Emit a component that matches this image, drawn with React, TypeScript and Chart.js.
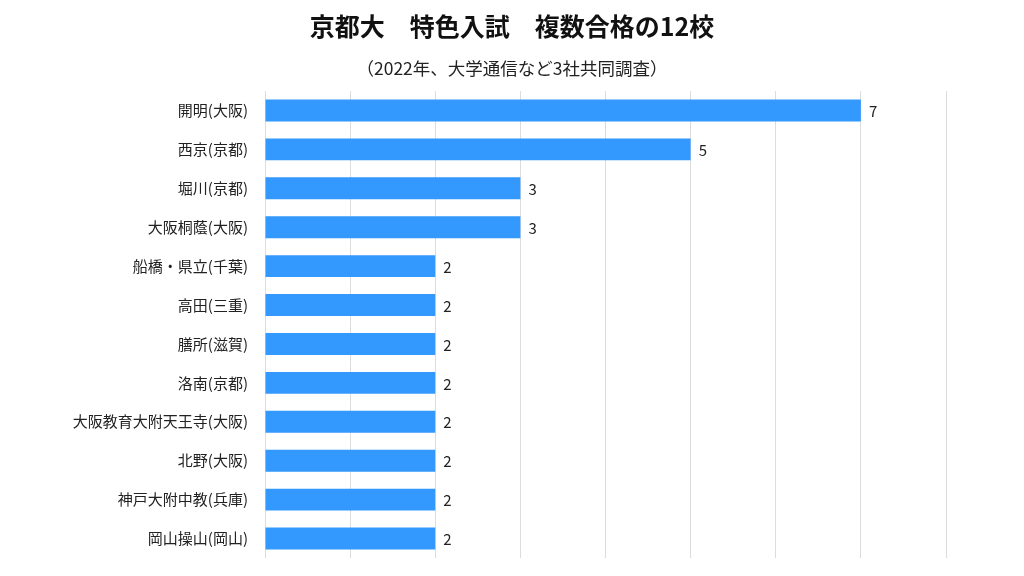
import React, { useEffect, useRef } from 'react';
import { Chart, registerables, Plugin } from 'chart.js';

Chart.register(...registerables);

// データ
const schools = [
  '開明(大阪)',
  '西京(京都)',
  '堀川(京都)',
  '大阪桐蔭(大阪)',
  '船橋・県立(千葉)',
  '高田(三重)',
  '膳所(滋賀)',
  '洛南(京都)',
  '大阪教育大附天王寺(大阪)',
  '北野(大阪)',
  '神戸大附中教(兵庫)',
  '岡山操山(岡山)',
];
const passCounts = [7, 5, 3, 3, 2, 2, 2, 2, 2, 2, 2, 2];
const axisMax = 8;

const FONT = '"Noto Sans CJK JP", "Noto Sans", sans-serif';

// バーの右に値を描くプラグイン
const valueLabels: Plugin<'bar'> = {
  id: 'valueLabels',
  afterDatasetsDraw(chart) {
    const ctx = chart.ctx;
    const meta = chart.getDatasetMeta(0);
    ctx.save();
    ctx.font = `15px ${FONT}`;
    ctx.fillStyle = '#222';
    ctx.textAlign = 'left';
    ctx.textBaseline = 'middle';
    meta.data.forEach((bar, i) => {
      const { x, y } = bar.getProps(['x', 'y'], true);
      ctx.fillText(String(passCounts[i]), x + 8, y + 1);
    });
    ctx.restore();
  },
};

const App: React.FC = () => {
  const canvasRef = useRef<HTMLCanvasElement>(null);

  useEffect(() => {
    if (!canvasRef.current) return;
    const chart = new Chart(canvasRef.current, {
      type: 'bar',
      data: {
        labels: schools,
        datasets: [
          {
            data: passCounts,
            backgroundColor: '#3399ff',
            borderWidth: 0,
            barPercentage: 0.75,
            categoryPercentage: 0.75,
          },
        ],
      },
      options: {
        indexAxis: 'y',
        animation: false,
        responsive: true,
        maintainAspectRatio: false,
        layout: { padding: { left: 0, right: 78, top: 91, bottom: 3 } },
        plugins: {
          legend: { display: false },
          tooltip: { enabled: false },
        },
        scales: {
          x: {
            min: 0,
            max: axisMax,
            ticks: { display: false, stepSize: 1 },
            grid: { color: '#dcdcdc', drawTicks: false },
            border: { display: false },
          },
          y: {
            grid: { display: false },
            border: { display: false },
            ticks: {
              color: '#222',
              font: { family: FONT, size: 15 },
              padding: 9,
            },
            afterFit(scale) {
              scale.width = 265;
            },
          },
        },
      },
      plugins: [valueLabels],
    });
    return () => chart.destroy();
  }, []);

  const titleStyle: React.CSSProperties = {
    position: 'absolute',
    left: 0,
    width: 1024,
    textAlign: 'center',
    fontFamily: FONT,
    color: '#111',
    margin: 0,
  };

  return (
    <div style={{ position: 'absolute', left: 0, top: 0, width: 1024, height: 576, background: '#fff' }}>
      <div style={{ ...titleStyle, top: 10, fontSize: 25, lineHeight: '30px', fontWeight: 'bold' }}>
        京都大　特色入試　複数合格の12校
      </div>
      <div style={{ ...titleStyle, top: 57, fontSize: 17.5, lineHeight: '22px', color: '#222' }}>
        （2022年、大学通信など3社共同調査）
      </div>
      <canvas ref={canvasRef}></canvas>
    </div>
  );
};

export default App;
